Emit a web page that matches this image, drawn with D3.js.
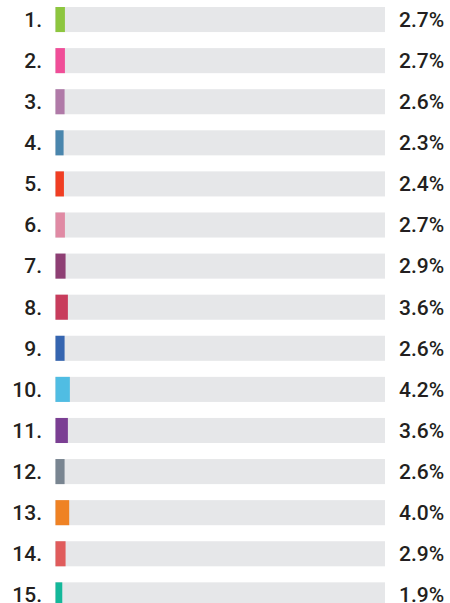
<!DOCTYPE html>
<html>
<head>
<meta charset="utf-8">
<script src="https://cdn.jsdelivr.net/npm/d3@7"></script>
<style>
  html, body { margin: 0; padding: 0; background: #fff; }
  svg { display: block; }
  text { font-family: Roboto, "Noto Sans", sans-serif; }
</style>
</head>
<body>
<svg id="chart" width="450" height="603"></svg>
<script>
const ranks = ["1.", "2.", "3.", "4.", "5.", "6.", "7.", "8.", "9.", "10.", "11.", "12.", "13.", "14.", "15."];
const values = [2.7, 2.7, 2.6, 2.3, 2.4, 2.7, 2.9, 3.6, 2.6, 4.2, 3.6, 2.6, 4.0, 2.9, 1.9];
const valueLabels = ["2.7%", "2.7%", "2.6%", "2.3%", "2.4%", "2.7%", "2.9%", "3.6%", "2.6%", "4.2%", "3.6%", "2.6%", "4.0%", "2.9%", "1.9%"];
const colors = ["#8dc63f", "#f04e98", "#b07aa8", "#4a86ad", "#f03e23", "#e08aa4", "#8e3f74", "#c83c5c", "#3565b0", "#50bde3", "#7b3f93", "#798591", "#ef8224", "#e05c5c", "#14b89a"];

const svg = d3.select("#chart");
const idx = d3.range(ranks.length);

const y = d3.scaleBand()
  .domain(idx)
  .range([7, 7 + 14 * 41.1 + 25])
  .paddingInner(0.39)
  .paddingOuter(0);

const x = d3.scaleLinear().domain([0, 100]).range([55, 385]);

const rows = svg.selectAll("g.row").data(idx).join("g").attr("class", "row");

rows.append("rect")
  .attr("x", x(0))
  .attr("y", d => y(d))
  .attr("width", x(100) - x(0))
  .attr("height", y.bandwidth())
  .attr("fill", "#e6e7e9");

rows.append("rect")
  .attr("x", x(0) + 0.5)
  .attr("y", d => y(d))
  .attr("width", d => x(values[d]) - x(0) + 0.5)
  .attr("height", y.bandwidth())
  .attr("fill", d => colors[d]);

rows.append("text")
  .attr("x", 42)
  .attr("y", d => y(d) + y.bandwidth() / 2)
  .attr("dy", "0.35em")
  .attr("text-anchor", "end")
  .attr("font-size", 21)
  .attr("font-weight", 500)
  .attr("fill", "#231f20")
  .text(d => ranks[d]);

rows.append("text")
  .attr("x", 399)
  .attr("y", d => y(d) + y.bandwidth() / 2)
  .attr("dy", "0.35em")
  .attr("text-anchor", "start")
  .attr("font-size", 21)
  .attr("font-weight", 500)
  .attr("fill", "#231f20")
  .text(d => valueLabels[d]);
</script>
</body>
</html>
